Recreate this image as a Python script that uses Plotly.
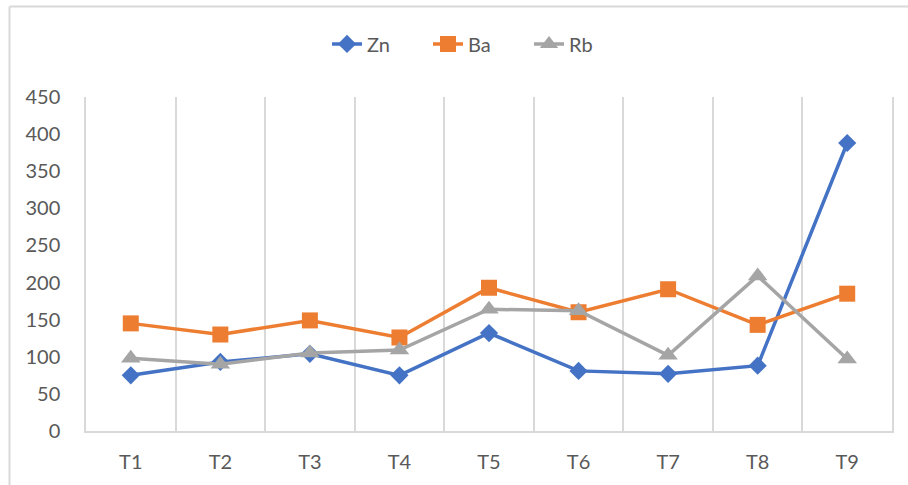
import plotly.graph_objects as go

categories = ["T1", "T2", "T3", "T4", "T5", "T6", "T7", "T8", "T9"]
zn = [75, 93, 104, 75, 132, 81, 77, 88, 388]
ba = [145, 130, 149, 126, 193, 160, 191, 143, 185]
rb = [98, 90, 105, 109, 164, 162, 102, 209, 97]
y_ticks = [0, 50, 100, 150, 200, 250, 300, 350, 400, 450]

series = [
    ("Zn", zn, "#4472C4", "diamond", 14),
    ("Ba", ba, "#ED7D31", "square", 16),
    ("Rb", rb, "#A5A5A5", "triangle-up", 17),
]

xs = list(range(len(categories)))
fig = go.Figure()
for name, vals, color, symbol, msize in series:
    fig.add_trace(go.Scatter(
        x=xs, y=vals, name=name, mode="lines+markers",
        line=dict(color=color, width=3.5),
        marker=dict(symbol=symbol, size=msize, color=color),
    ))

grid = "#D9D9D9"
font_color = "#595959"
fig.update_layout(
    width=908, height=485,
    margin=dict(l=86, r=16, t=97, b=54),
    paper_bgcolor="white", plot_bgcolor="white",
    font=dict(family="Lato, Open Sans, sans-serif", size=20, color=font_color),
    showlegend=True,
    legend=dict(orientation="h", x=0.487, xanchor="center", y=1.159, yanchor="middle",
                font=dict(size=20, color=font_color), entrywidth=56, entrywidthmode="pixels"),
    xaxis=dict(
        range=[-0.5, 8.5], tickmode="array", tickvals=xs, ticktext=categories,
        showgrid=False, zeroline=False, showline=True, linecolor=grid, linewidth=1.5,
        ticks="", ticklabelstandoff=12,
        minor=dict(tick0=0.5, dtick=1, showgrid=True, gridcolor=grid, gridwidth=1.5),
    ),
    yaxis=dict(
        range=[0, 450], tickmode="array", tickvals=y_ticks,
        showgrid=False, zeroline=False, showline=True, linecolor=grid, linewidth=1.5,
        mirror=True, ticks="", ticklabelstandoff=20,
    ),
    shapes=[
        dict(type="line", xref="paper", yref="paper", x0=-0.0949, x1=1.2, y0=1.271, y1=1.271,
             line=dict(color=grid, width=2)),
        dict(type="line", xref="paper", yref="paper", x0=-0.0949, x1=-0.0949, y0=1.271, y1=-0.3,
             line=dict(color=grid, width=2)),
    ],
)

fig.write_html("out.html")
